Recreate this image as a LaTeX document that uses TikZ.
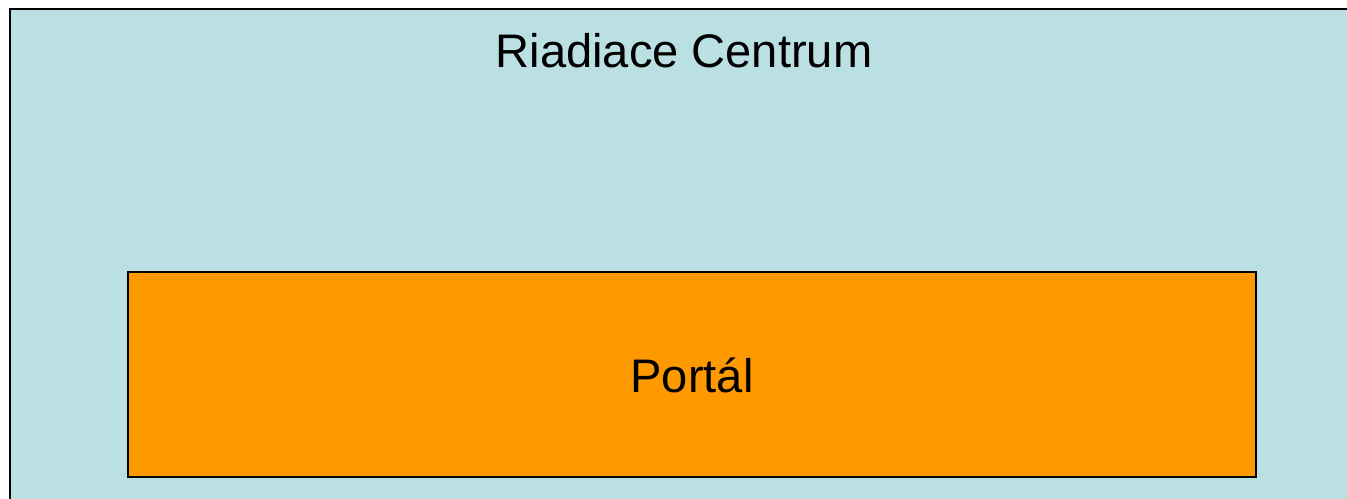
\documentclass[tikz,border=0pt]{standalone}
\usepackage{fontspec}
\setmainfont{Liberation Sans}
\usepackage{xcolor}
\definecolor{centrumblue}{RGB}{187, 224, 227}
\definecolor{portalorange}{RGB}{255, 153, 0}
\usetikzlibrary{positioning}

\begin{document}
\begin{tikzpicture}[x=0.02cm, y=-0.02cm,
    boxtext/.style={font=\fontsize{26.8}{32}\selectfont, anchor=base, inner sep=0pt},
    frame/.style={draw=black, line width=0.8pt}
]
    \useasboundingbox (0,0) rectangle (1347,498);
    \clip (0,0) rectangle (1347,498);
    % Riadiace Centrum
    \draw[frame, fill=centrumblue] (10,9) rectangle (1360,510);
    \node[boxtext] (centrum) at (684,67) {Riadiace Centrum};

    % Portal
    \draw[frame, fill=portalorange] (128,272) rectangle (1256,477);
    \node[boxtext] (portal) at (692,392) {Portál};
\end{tikzpicture}
\end{document}
